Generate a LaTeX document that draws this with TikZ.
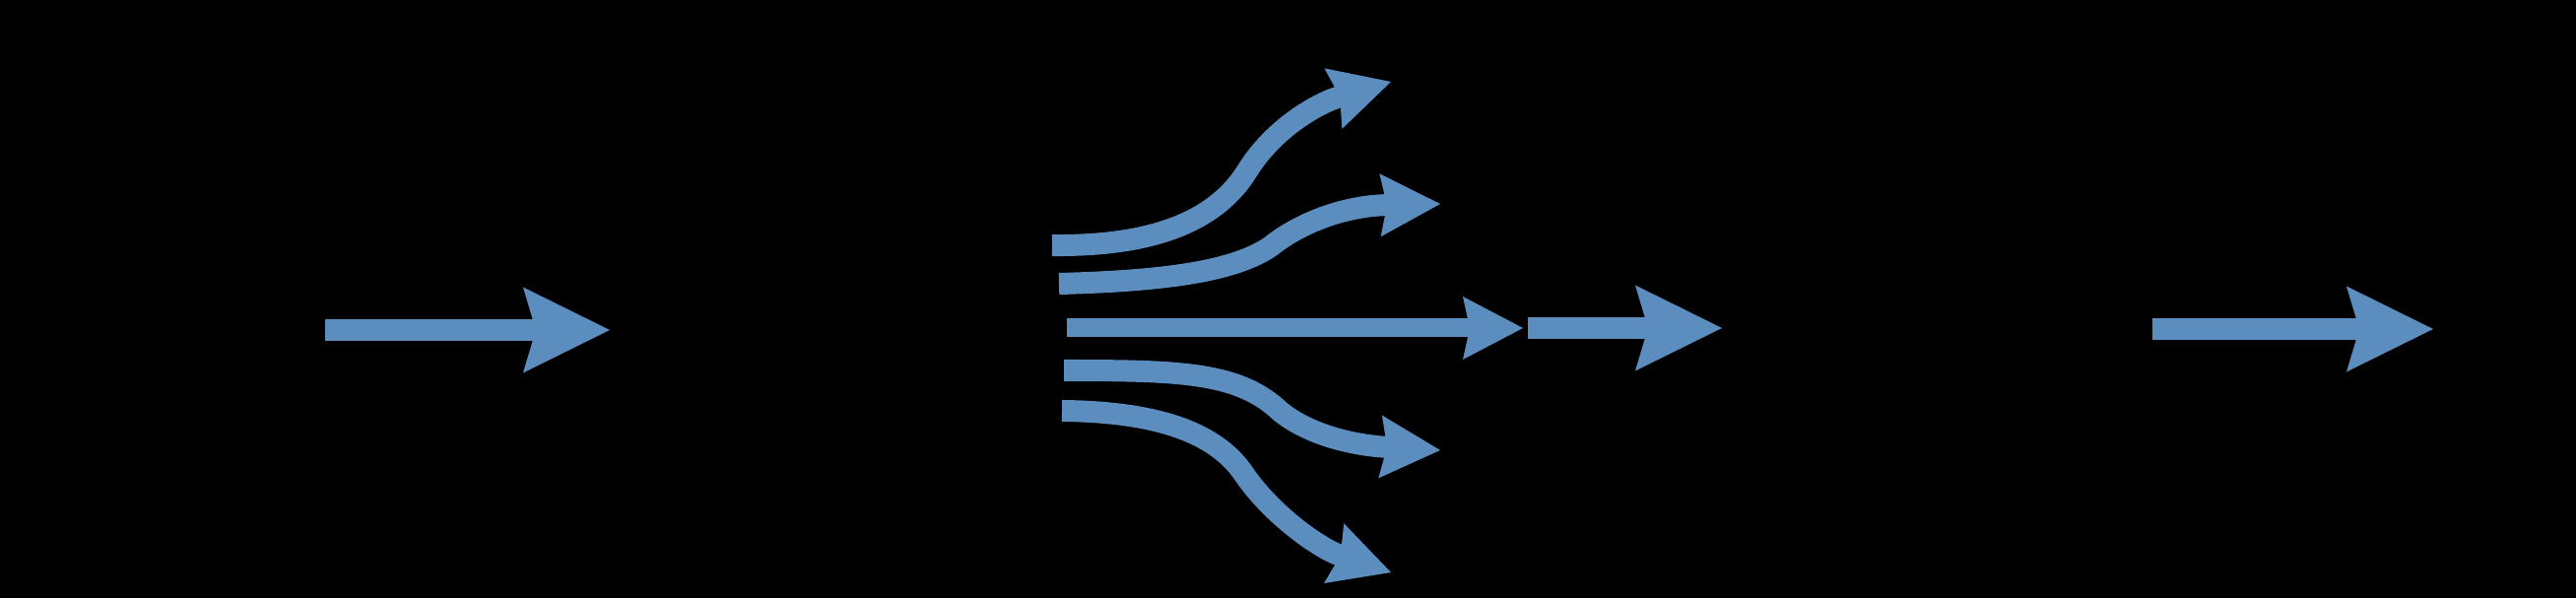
\documentclass[tikz,border=0pt]{standalone}
\usetikzlibrary{arrows.meta}
\definecolor{bleuflux}{RGB}{91,141,191}
\begin{document}
\begin{tikzpicture}[x=0.01cm, y=-0.01cm,
	fleche/.style={line width=0.21cm, bleuflux, line cap=butt},
	grande/.style={fleche, -{Stealth[length=0.88cm, width=0.87cm, inset=0.13cm, line width=0pt]}},
	petite/.style={fleche, -{Stealth[length=0.61cm, width=0.64cm, inset=0.07cm, line width=0pt]}}]
	% le fond
	\fill[black] (0,0) rectangle (2615,607);
	% la flèche d'entrée
	\coordinate (E0) at (330,335);
	\coordinate (E1) at (619,335);
	\draw[grande] (E0) -- (E1);
	% le faisceau qui s'ouvre
	\coordinate (A0) at (1068,249);
	\coordinate (A1) at (1412,83);
	\draw[petite, line width=0.22cm] (A0) .. controls (1170,250) and (1235,225) .. (1267,172)
		.. controls (1295,128) and (1340,104) .. (A1);
	\coordinate (B0) at (1075,288);
	\coordinate (B1) at (1462,207);
	\draw[petite, line width=0.22cm] (B0) .. controls (1190,285) and (1255,274) .. (1290,250)
		.. controls (1320,226) and (1365,209) .. (B1);
	\coordinate (C0) at (1083,333);
	\coordinate (C1) at (1546,333);
	\draw[petite, line width=0.19cm] (C0) -- (C1);
	\coordinate (D0) at (1080,376);
	\coordinate (D1) at (1462,457);
	\draw[petite, line width=0.22cm] (D0) .. controls (1200,376) and (1258,378) .. (1300,418)
		.. controls (1330,442) and (1375,452) .. (D1);
	\coordinate (F0) at (1078,417);
	\coordinate (F1) at (1412,581);
	\draw[petite, line width=0.22cm] (F0) .. controls (1170,418) and (1232,437) .. (1262,480)
		.. controls (1290,522) and (1340,557) .. (F1);
	% la flèche du milieu
	\coordinate (M0) at (1551,333);
	\coordinate (M1) at (1748,333);
	\draw[grande] (M0) -- (M1);
	% la flèche de sortie
	\coordinate (S0) at (2185,334);
	\coordinate (S1) at (2470,334);
	\draw[grande] (S0) -- (S1);
\end{tikzpicture}
\end{document}
